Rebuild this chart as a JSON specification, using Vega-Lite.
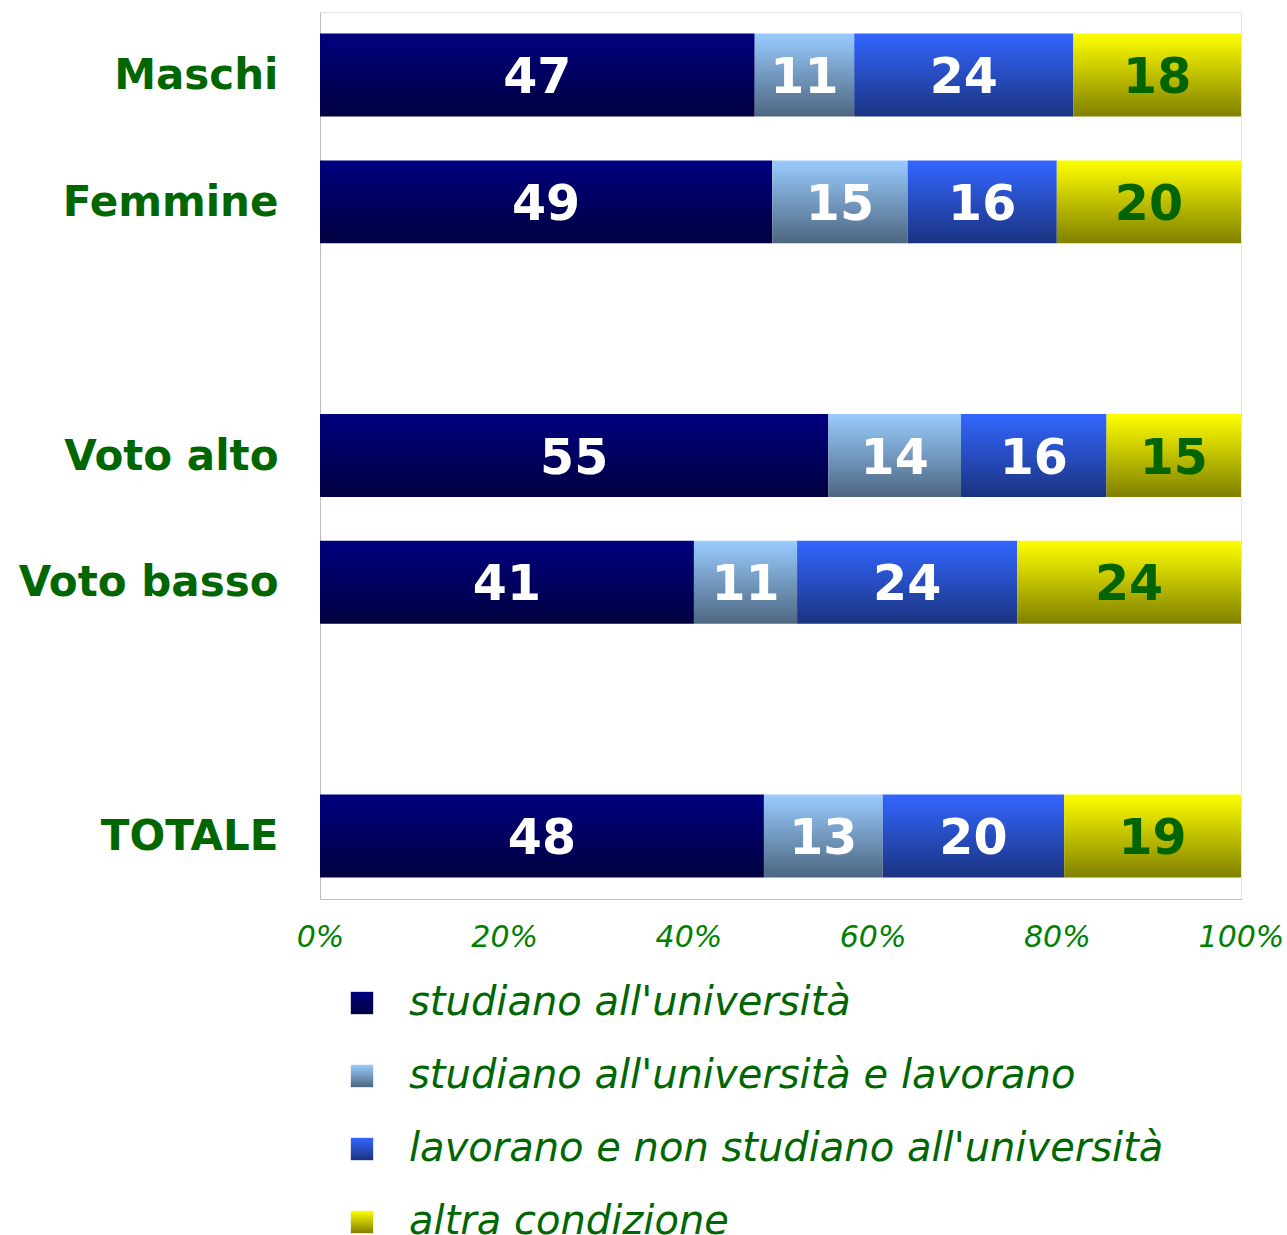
{
  "$schema": "https://vega.github.io/schema/vega-lite/v6.json",
  "width": 921,
  "height": 887,
  "autosize": {"type": "none"},
  "padding": {"left": 320, "top": 12, "right": 46, "bottom": 336},
  "background": "white",
  "config": {
    "view": {"stroke": "#e3e3e3", "strokeWidth": 1},
    "font": "DejaVu Sans"
  },
  "data": {
    "values": [
      {"cat": "Maschi", "serie": "studiano all'università", "ord": 1, "v": 47.2},
      {"cat": "Maschi", "serie": "studiano all'università e lavorano", "ord": 2, "v": 10.8},
      {"cat": "Maschi", "serie": "lavorano e non studiano all'università", "ord": 3, "v": 23.8},
      {"cat": "Maschi", "serie": "altra condizione", "ord": 4, "v": 18.2},
      {"cat": "Femmine", "serie": "studiano all'università", "ord": 1, "v": 49.1},
      {"cat": "Femmine", "serie": "studiano all'università e lavorano", "ord": 2, "v": 14.7},
      {"cat": "Femmine", "serie": "lavorano e non studiano all'università", "ord": 3, "v": 16.2},
      {"cat": "Femmine", "serie": "altra condizione", "ord": 4, "v": 20.0},
      {"cat": "Voto alto", "serie": "studiano all'università", "ord": 1, "v": 55.2},
      {"cat": "Voto alto", "serie": "studiano all'università e lavorano", "ord": 2, "v": 14.4},
      {"cat": "Voto alto", "serie": "lavorano e non studiano all'università", "ord": 3, "v": 15.8},
      {"cat": "Voto alto", "serie": "altra condizione", "ord": 4, "v": 14.6},
      {"cat": "Voto basso", "serie": "studiano all'università", "ord": 1, "v": 40.6},
      {"cat": "Voto basso", "serie": "studiano all'università e lavorano", "ord": 2, "v": 11.2},
      {"cat": "Voto basso", "serie": "lavorano e non studiano all'università", "ord": 3, "v": 23.9},
      {"cat": "Voto basso", "serie": "altra condizione", "ord": 4, "v": 24.3},
      {"cat": "TOTALE", "serie": "studiano all'università", "ord": 1, "v": 48.2},
      {"cat": "TOTALE", "serie": "studiano all'università e lavorano", "ord": 2, "v": 12.9},
      {"cat": "TOTALE", "serie": "lavorano e non studiano all'università", "ord": 3, "v": 19.7},
      {"cat": "TOTALE", "serie": "altra condizione", "ord": 4, "v": 19.2}
    ]
  },
  "encoding": {
    "y": {
      "field": "cat",
      "type": "nominal",
      "scale": {
        "domain": ["Maschi", "Femmine", " ", "Voto alto", "Voto basso", "  ", "TOTALE"],
        "paddingInner": 0.346,
        "paddingOuter": 0.17
      },
      "axis": {
        "title": null,
        "ticks": false,
        "domain": true,
        "domainColor": "#bdbdbd",
        "labelFont": "DejaVu Sans",
        "labelFontWeight": "bold",
        "labelFontSize": 42,
        "labelColor": "#006600",
        "labelPadding": 42,
        "labelOffset": 1,
        "labelLimit": 400
      }
    }
  },
  "layer": [
    {
      "mark": {"type": "bar"},
      "encoding": {
        "x": {
          "field": "v",
          "type": "quantitative",
          "stack": "zero",
          "scale": {"domain": [0, 100], "nice": false},
          "axis": {
            "title": null,
            "values": [0, 20, 40, 60, 80, 100],
            "labelExpr": "datum.value + '%'",
            "ticks": false,
            "grid": false,
            "domainColor": "#bdbdbd",
            "labelFont": "DejaVu Sans",
            "labelFontStyle": "italic",
            "labelFontSize": 30,
            "labelColor": "#008000",
            "labelPadding": 23,
            "labelFlush": false,
            "labelOverlap": false
          }
        },
        "color": {
          "field": "serie",
          "type": "nominal",
          "scale": {
            "domain": [
              "studiano all'università",
              "studiano all'università e lavorano",
              "lavorano e non studiano all'università",
              "altra condizione"
            ],
            "range": [
              {"expr": "{gradient: 'linear', x1: 0, y1: 0, x2: 0, y2: 1, stops: [{offset: 0, color: '#000080'}, {offset: 1, color: '#000040'}]}"},
              {"expr": "{gradient: 'linear', x1: 0, y1: 0, x2: 0, y2: 1, stops: [{offset: 0, color: '#99ccff'}, {offset: 1, color: '#4d6680'}]}"},
              {"expr": "{gradient: 'linear', x1: 0, y1: 0, x2: 0, y2: 1, stops: [{offset: 0, color: '#3366ff'}, {offset: 1, color: '#1a3380'}]}"},
              {"expr": "{gradient: 'linear', x1: 0, y1: 0, x2: 0, y2: 1, stops: [{offset: 0, color: '#ffff00'}, {offset: 1, color: '#808000'}]}"}
            ]
          },
          "legend": {
            "title": null,
            "orient": "none",
            "legendX": 22,
            "legendY": 971,
            "direction": "vertical",
            "symbolType": "square",
            "symbolSize": 500,
            "symbolStrokeWidth": 0,
            "labelFont": "DejaVu Sans",
            "labelFontStyle": "italic",
            "labelFontSize": 40,
            "labelColor": "#006600",
            "labelLimit": 1000,
            "labelOffset": 27,
            "rowPadding": 33
          }
        },
        "order": {"field": "ord", "type": "quantitative"}
      }
    },
    {
      "transform": [
        {"stack": "v", "groupby": ["cat"], "sort": [{"field": "ord", "order": "ascending"}], "as": ["v0", "v1"]},
        {"calculate": "(datum.v0 + datum.v1) / 2", "as": "mid"}
      ],
      "mark": {
        "type": "text",
        "font": "DejaVu Sans",
        "fontWeight": "bold",
        "fontSize": 49,
        "baseline": "middle",
        "align": "center",
        "dy": 3
      },
      "encoding": {
        "x": {"field": "mid", "type": "quantitative"},
        "text": {"field": "v", "type": "quantitative", "format": ".0f"},
        "color": {
          "condition": {"test": "datum.ord == 4", "value": "#006400"},
          "value": "white"
        }
      }
    }
  ]
}
